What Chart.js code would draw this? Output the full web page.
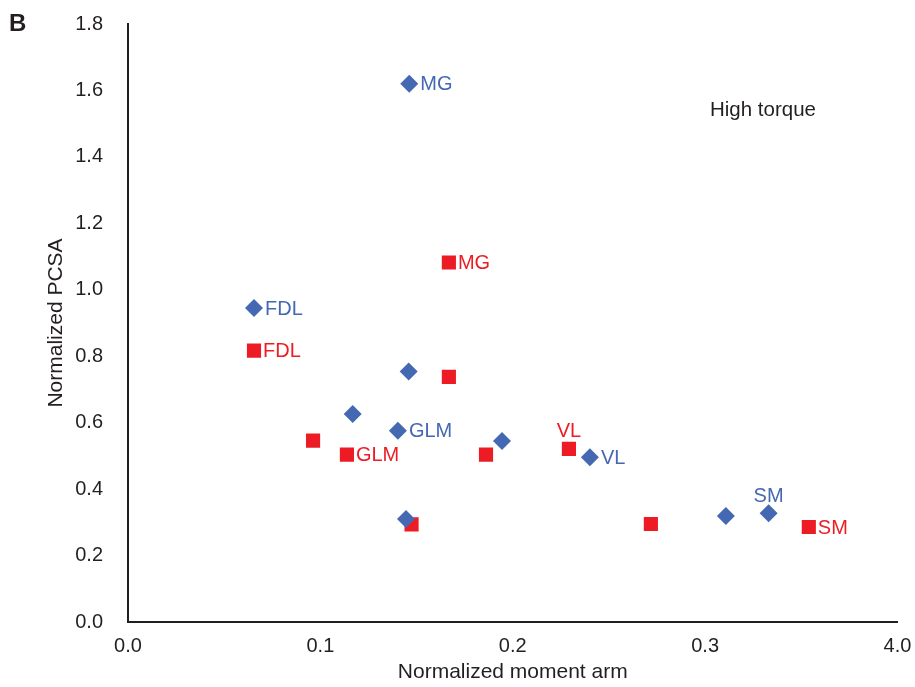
<!DOCTYPE html>
<html>
<head>
<meta charset="utf-8">
<script src="https://cdn.jsdelivr.net/npm/chart.js@4/dist/chart.umd.min.js"></script>
<style>
  html, body { margin: 0; padding: 0; background: #ffffff; }
  #wrap { width: 915px; height: 687px; }
</style>
</head>
<body>
<div id="wrap"><canvas id="c" width="915" height="687"></canvas></div>
<script>
// ---- data ----
const blueX = [0.1462, 0.0655, 0.1459, 0.1168, 0.1403, 0.1944, 0.2401, 0.1445, 0.3108, 0.3330];
const blueY = [1.620, 0.945, 0.754, 0.626, 0.576, 0.545, 0.496, 0.310, 0.319, 0.327];
const blueLabels = ['MG', 'FDL', '', '', 'GLM', '', 'VL', '', '', 'SM'];
const blueLabelSide = ['right', 'right', '', '', 'right', '', 'right', '', '', 'above'];

const redX = [0.1668, 0.0655, 0.1668, 0.0962, 0.1138, 0.1861, 0.2292, 0.1474, 0.2718, 0.3539];
const redY = [1.082, 0.817, 0.738, 0.546, 0.504, 0.504, 0.521, 0.294, 0.295, 0.286];
const redLabels = ['MG', 'FDL', '', '', 'GLM', '', 'VL', '', '', 'SM'];
const redLabelSide = ['right', 'right', '', '', 'right', '', 'above', '', '', 'right'];

const xTickLabels = ['0.0', '0.1', '0.2', '0.3', '4.0'];
const yTickLabels = ['0.0', '0.2', '0.4', '0.6', '0.8', '1.0', '1.2', '1.4', '1.6', '1.8'];

const xTitle = 'Normalized moment arm';
const yTitle = 'Normalized PCSA';
const panelLetter = 'B';
const noteText = 'High torque';

// ---- styles ----
const BLUE = '#4568b2';
const RED = '#ed1c24';
const INK = '#231f20';
const FONT = "'Liberation Sans', Arial, sans-serif";

const toPts = (xs, ys) => xs.map((x, i) => ({ x: x, y: ys[i] }));

const pointLabelPlugin = {
  id: 'pointLabels',
  afterDatasetsDraw(chart) {
    const ctx = chart.ctx;
    chart.data.datasets.forEach((ds, di) => {
      const meta = chart.getDatasetMeta(di);
      meta.data.forEach((el, i) => {
        const txt = ds.pointLabels[i];
        if (!txt) return;
        ctx.save();
        ctx.fillStyle = ds.backgroundColor;
        ctx.font = '20px ' + FONT;
        if (ds.labelSide[i] === 'above') {
          ctx.textAlign = 'center';
          ctx.textBaseline = 'middle';
          ctx.fillText(txt, el.x, el.y - 17);
        } else {
          ctx.textAlign = 'left';
          ctx.textBaseline = 'middle';
          ctx.fillText(txt, el.x + ds.labelGap, el.y + 1);
        }
        ctx.restore();
      });
    });
  }
};

const notesPlugin = {
  id: 'notes',
  afterDraw(chart) {
    const ctx = chart.ctx;
    ctx.save();
    ctx.fillStyle = INK;
    ctx.font = 'bold 24px ' + FONT;
    ctx.textAlign = 'left';
    ctx.textBaseline = 'alphabetic';
    ctx.fillText(panelLetter, 9, 31);
    ctx.font = '20.5px ' + FONT;
    ctx.textBaseline = 'middle';
    ctx.fillText(noteText, 710, 110);
    ctx.restore();
  }
};

new Chart(document.getElementById('c'), {
  type: 'scatter',
  data: {
    datasets: [
      {
        label: 'Blue',
        data: toPts(blueX, blueY),
        pointStyle: 'rectRot',
        radius: 9,
        hoverRadius: 9,
        backgroundColor: BLUE,
        borderColor: BLUE,
        borderWidth: 0,
        pointLabels: blueLabels,
        labelSide: blueLabelSide,
        labelGap: 11
      },
      {
        label: 'Red',
        data: toPts(redX, redY),
        pointStyle: 'rect',
        radius: 10,
        hoverRadius: 10,
        backgroundColor: RED,
        borderColor: RED,
        borderWidth: 0,
        pointLabels: redLabels,
        labelSide: redLabelSide,
        labelGap: 9
      }
    ]
  },
  options: {
    responsive: false,
    animation: false,
    events: [],
    layout: { padding: { top: 24, right: 17.5, left: 0, bottom: 0 } },
    plugins: {
      legend: { display: false },
      tooltip: { enabled: false }
    },
    scales: {
      x: {
        type: 'linear',
        min: 0,
        max: 0.4,
        grid: { display: false, drawTicks: false },
        border: { display: true, color: INK, width: 2 },
        ticks: {
          stepSize: 0.1,
          padding: 12,
          color: INK,
          font: { family: FONT, size: 20 },
          maxRotation: 0,
          callback: (v, i) => xTickLabels[i]
        },
        title: {
          display: true,
          text: xTitle,
          color: INK,
          font: { family: FONT, size: 21, lineHeight: 1.2 },
          padding: { top: 0, bottom: 2 }
        },
        afterFit: (s) => { s.height = 65; s.paddingLeft = 0; s.paddingRight = 0; }
      },
      y: {
        type: 'linear',
        min: 0,
        max: 1.8,
        grid: { display: false, drawTicks: false },
        border: { display: true, color: INK, width: 2 },
        ticks: {
          stepSize: 0.2,
          padding: 25,
          color: INK,
          font: { family: FONT, size: 20 },
          callback: (v, i) => yTickLabels[i]
        },
        title: {
          display: true,
          text: yTitle,
          color: INK,
          font: { family: FONT, size: 21, lineHeight: 1.2 },
          padding: { top: 44, bottom: 0 }
        },
        afterFit: (s) => { s.width = 128; s.paddingTop = 0; s.paddingBottom = 0; }
      }
    }
  },
  plugins: [pointLabelPlugin, notesPlugin]
});
</script>
</body>
</html>
